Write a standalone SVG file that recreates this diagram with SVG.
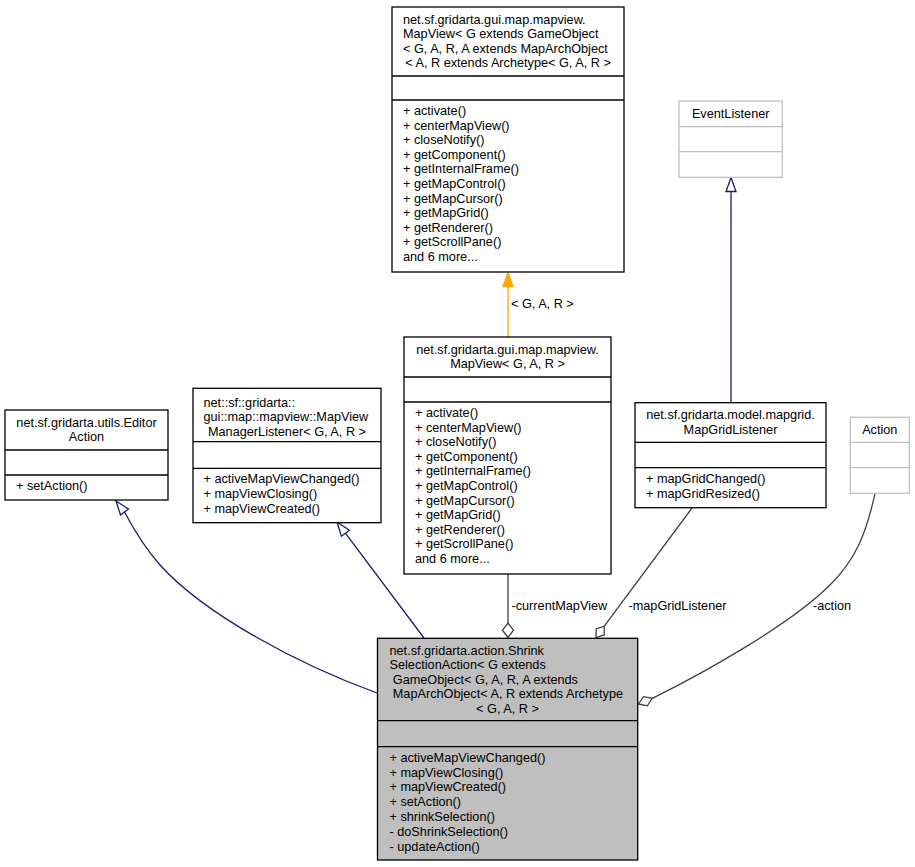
<svg xmlns="http://www.w3.org/2000/svg" width="915" height="867" viewBox="0 0 915 867">
<style>
text{font-family:"Liberation Sans",Arial,Helvetica,sans-serif;font-size:12.7px;fill:#000}
.m{text-anchor:middle}
.box{fill:#fff;stroke:#000;stroke-width:1.3}
.sep{stroke:#000;stroke-width:1.3}
.gbox{fill:#fff;stroke:#bfbfbf;stroke-width:1.3}
.gsep{stroke:#bfbfbf;stroke-width:1.3}
.cur{fill:#bfbfbf;stroke:#000;stroke-width:1.3}
.inh{fill:none;stroke:#191970;stroke-width:1.3}
.inhh{fill:#fff;stroke:#191970;stroke-width:1.3}
.use{fill:none;stroke:#404040;stroke-width:1.3}
.useh{fill:#fff;stroke:#404040;stroke-width:1.3}
.tpl{fill:none;stroke:#ffa500;stroke-width:1.3}
.tplh{fill:#ffa500;stroke:#ffa500;stroke-width:1.3}
</style>
<rect width="915" height="867" fill="#fff"/>
<g id="connectors">
  <!-- template instance -->
  <path class="tpl" d="M508,337 L508,286.5"/>
  <polygon class="tplh" points="508,272.5 503,286.5 513,286.5"/>
  <text x="511" y="308">&lt; G, A, R &gt;</text>
  <!-- EventListener inheritance -->
  <path class="inh" d="M731,402.7 L731,191.5"/>
  <polygon class="inhh" points="731,177.5 726,191.5 736,191.5"/>
  <!-- EditorAction inheritance -->
  <path class="inh" d="M377,693 C300,665 205,615 160,565 C145,548 133,528 124.5,512"/>
  <polygon class="inhh" points="116,501 128.5,509 120.5,515"/>
  <!-- MapViewManagerListener inheritance -->
  <path class="inh" d="M424,638 L345.4,533.2"/>
  <polygon class="inhh" points="337,522 349.4,530.2 341.4,536.2"/>
  <!-- currentMapView -->
  <path class="use" d="M508,574 L508,623"/>
  <polygon class="useh" points="508,637.5 502.5,630.2 508,623 513.5,630.2"/>
  <text x="511.5" y="609.5">-currentMapView</text>
  <!-- mapGridListener -->
  <path class="use" d="M692,508 L604.3,626.2"/>
  <polygon class="useh" points="596,637.5 604.2,634.9 604.3,626.2 596.2,628.9"/>
  <text x="628.5" y="609.5">-mapGridListener</text>
  <!-- action -->
  <path class="use" d="M875,493.3 C866,535 855,560 830,585 C790,625 700,675 652.3,698.3"/>
  <polygon class="useh" points="638.5,704 647.3,705.8 652.3,698.3 643.5,696.6"/>
  <text x="813" y="609.5">-action</text>
</g>
<g id="node-mapview-generic">
  <rect class="box" x="392" y="7" width="232" height="265"/>
  <line class="sep" x1="392" y1="76" x2="624" y2="76"/>
  <line class="sep" x1="392" y1="100" x2="624" y2="100"/>
  <text x="403" y="23.7">net.sf.gridarta.gui.map.mapview.</text>
  <text x="403" y="38.2">MapView&lt; G extends GameObject</text>
  <text x="403" y="52.7">&lt; G, A, R, A extends MapArchObject</text>
  <text class="m" x="508" y="67.2">&lt; A, R extends Archetype&lt; G, A, R &gt;</text>
  <text x="403" y="115">+ activate()</text>
  <text x="403" y="129.6">+ centerMapView()</text>
  <text x="403" y="144.2">+ closeNotify()</text>
  <text x="403" y="158.8">+ getComponent()</text>
  <text x="403" y="173.4">+ getInternalFrame()</text>
  <text x="403" y="188">+ getMapControl()</text>
  <text x="403" y="202.6">+ getMapCursor()</text>
  <text x="403" y="217.2">+ getMapGrid()</text>
  <text x="403" y="231.8">+ getRenderer()</text>
  <text x="403" y="246.4">+ getScrollPane()</text>
  <text x="403" y="261">and 6 more...</text>
</g>
<g id="node-mapview-gar">
  <rect class="box" x="404" y="337" width="207" height="237"/>
  <line class="sep" x1="404" y1="377" x2="611" y2="377"/>
  <line class="sep" x1="404" y1="402" x2="611" y2="402"/>
  <text class="m" x="507.5" y="353.7">net.sf.gridarta.gui.map.mapview.</text>
  <text class="m" x="507.5" y="368.2">MapView&lt; G, A, R &gt;</text>
  <text x="415" y="417">+ activate()</text>
  <text x="415" y="431.6">+ centerMapView()</text>
  <text x="415" y="446.2">+ closeNotify()</text>
  <text x="415" y="460.8">+ getComponent()</text>
  <text x="415" y="475.4">+ getInternalFrame()</text>
  <text x="415" y="490">+ getMapControl()</text>
  <text x="415" y="504.6">+ getMapCursor()</text>
  <text x="415" y="519.2">+ getMapGrid()</text>
  <text x="415" y="533.8">+ getRenderer()</text>
  <text x="415" y="548.4">+ getScrollPane()</text>
  <text x="415" y="563">and 6 more...</text>
</g>
<g id="node-editoraction">
  <rect class="box" x="5" y="410" width="163" height="90"/>
  <line class="sep" x1="5" y1="450" x2="168" y2="450"/>
  <line class="sep" x1="5" y1="475" x2="168" y2="475"/>
  <text class="m" x="86.5" y="426.7">net.sf.gridarta.utils.Editor</text>
  <text class="m" x="86.5" y="441.2">Action</text>
  <text x="16" y="490">+ setAction()</text>
</g>
<g id="node-mapviewmanagerlistener">
  <rect class="box" x="193" y="388.3" width="188" height="134.4"/>
  <line class="sep" x1="193" y1="441.7" x2="381" y2="441.7"/>
  <line class="sep" x1="193" y1="468.3" x2="381" y2="468.3"/>
  <text x="203.5" y="406.5">net::sf::gridarta::</text>
  <text x="203.5" y="421">gui::map::mapview::MapView</text>
  <text class="m" x="287" y="435.5">ManagerListener&lt; G, A, R &gt;</text>
  <text x="203.5" y="483.3">+ activeMapViewChanged()</text>
  <text x="203.5" y="497.9">+ mapViewClosing()</text>
  <text x="203.5" y="512.5">+ mapViewCreated()</text>
</g>
<g id="node-eventlistener">
  <rect class="gbox" x="679" y="101" width="103.3" height="76.3"/>
  <line class="gsep" x1="679" y1="126.7" x2="782.3" y2="126.7"/>
  <line class="gsep" x1="679" y1="151.7" x2="782.3" y2="151.7"/>
  <text class="m" x="730.7" y="117.5">EventListener</text>
</g>
<g id="node-mapgridlistener">
  <rect class="box" x="635" y="402.7" width="191" height="105"/>
  <line class="sep" x1="635" y1="442.3" x2="826" y2="442.3"/>
  <line class="sep" x1="635" y1="467.7" x2="826" y2="467.7"/>
  <text class="m" x="730.5" y="419">net.sf.gridarta.model.mapgrid.</text>
  <text class="m" x="730.5" y="433.5">MapGridListener</text>
  <text x="646" y="483">+ mapGridChanged()</text>
  <text x="646" y="497.6">+ mapGridResized()</text>
</g>
<g id="node-action">
  <rect class="gbox" x="850.3" y="417.3" width="59" height="76"/>
  <line class="gsep" x1="850.3" y1="442.3" x2="909.3" y2="442.3"/>
  <line class="gsep" x1="850.3" y1="467.7" x2="909.3" y2="467.7"/>
  <text class="m" x="879.8" y="433.8">Action</text>
</g>
<g id="node-shrinkselectionaction">
  <rect class="cur" x="377.5" y="638.3" width="260.2" height="221.7"/>
  <line class="sep" x1="377.5" y1="720.7" x2="637.7" y2="720.7"/>
  <line class="sep" x1="377.5" y1="746.7" x2="637.7" y2="746.7"/>
  <text x="389.5" y="654.5">net.sf.gridarta.action.Shrink</text>
  <text x="389.5" y="669">SelectionAction&lt; G extends</text>
  <text x="392.8" y="683.5">GameObject&lt; G, A, R, A extends</text>
  <text x="392.8" y="698">MapArchObject&lt; A, R extends Archetype</text>
  <text class="m" x="507.5" y="712.5">&lt; G, A, R &gt;</text>
  <text x="389.5" y="761.7">+ activeMapViewChanged()</text>
  <text x="389.5" y="776.5">+ mapViewClosing()</text>
  <text x="389.5" y="791.3">+ mapViewCreated()</text>
  <text x="389.5" y="806.1">+ setAction()</text>
  <text x="389.5" y="820.9">+ shrinkSelection()</text>
  <text x="389.5" y="835.7">- doShrinkSelection()</text>
  <text x="389.5" y="850.5">- updateAction()</text>
</g>
</svg>
